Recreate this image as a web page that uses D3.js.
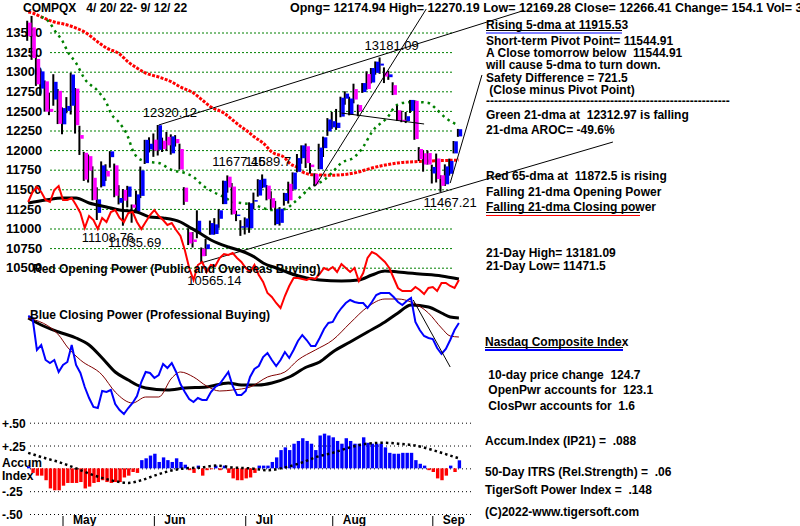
<!DOCTYPE html>
<html><head><meta charset="utf-8">
<script src="https://cdn.jsdelivr.net/npm/d3@7"></script>
<style>
body{margin:0;background:#fff;overflow:hidden;}
svg{display:block;}
svg text{font-family:"Liberation Sans",Arial,sans-serif;font-weight:bold;font-size:12px;white-space:pre;}
</style></head><body>
<script>
// NASDAQ composite, 4/20/22 - 9/12/22, one entry per trading day
const opens = [13626,13565,13163,12784,12877,12526,12645,12756,
  12329,12500,12566,12784,12192,11966,11923,11647,11199,11539,11735,11910,11806,11328,11494,11404,11305,11216,11416,11834,12008,
  12133,12003,12120,12169,11959,12142,12014,11521,10953,10860,10936,10744,10737,10921,10930,11124,11311,11661,11535,11163,11015,
  11011,11003,11350,11420,11523,11547,11387,11056,11072,11351,11570,11499,11724,11897,12049,11815,11694,11756,12025,12239,
  12290,12282,12427,12656,12450,12778,12575,12740,12970,12862,12985,13078,12991,12930,12828,12508,12387,12370,12500,12628,12014,11960,11962,
  11702,11893,11679,11564,11698,11958,12174.94];
const highs = [13650,13711,13221,13011,12888,12733,12968,12779,
  12545,12676,12986,12792,12310,11978,11944,11793,11525,11856,11819,11986,11828,11553,11503,11544,11306,11483,11790,12131,12163,
  12212,12320.12,12159,12231,12201,12191,12082,11527,11003,10955,11232,10758,10869,11101,11132,11247,11611,11677.45,11580,11226,11106,
  11142,11334,11458,11629,11689.7,11555,11475,11352,11273,11455,11597,11716,11950,12061,12084,11835,11704,12081,12172,12408,
  12486,12525,12681,12750,12681,12847,12581,12855,13005,13047,13131,13181.09,13055,13012,12865,12567,12501,12486,12640,12636,12038,11995,11994,
  11814,11956,11680,11818,11891,12116,12270.19];
const lows = [13394,13151,12819,12693,12490,12446,12566,12332,
  12202,12470,12454,12211,11938,11607,11586,11359,11108.76,11524,11607,11776,11399,11307,11035.69,11270,11074,11197,11388,11823,11970,
  11914,11931,11976,11988,11942,12045,11753,11301,10789,10757,10876,10565.14,10650,10920,10922,11008,11311,11457,11177,11094,10906,
  10924,10945,11245,11406,11514,11359,11238,11041,11037,11292,11318,11479,11716,11826,11772,11700,11539,11756,11912,12182,
  12271,12258,12419,12579,12444,12597,12432,12730,12771,12851,12962,12973,12855,12896,12702,12371,12356,12345,12474,12131,11861,11725,11815,
  11574,11587,11467.21,11542,11674,11958,12169.28];
const closes = [13453,13174,12839,13004,12490,12488,12871,12335,
  12536,12563,12964,12318,12145,11623,11738,11365,11371,11805,11663,11984,11418,11389,11355,11535,11265,11435,11741,12131,12081,
  11994,12317,12013,12061,12175,12087,11754,11340,10809,10828,11099,10646,10798,11069,11053,11232,11608,11524,11182,11178,11029,
  11128,11322,11362,11621,11635,11373,11265,11248,11252,11452,11360,11713,11898,12060,11834,11783,11563,12032,12163,12391,
  12369,12349,12668,12721,12658,12645,12493,12855,12779,13047,13128,13103,12938,12966,12705,12381,12381,12432,12640,12141,11884,11816,11816,
  11785,11631,11544,11792,11862,12112,12266.41];

// moving averages: [day index, value]
const ma65 = [[0,13760],[1,13749],[3,13698],[6,13634],[9,13596],[11,13557],[13,13506],[16,13379],[18,13302],[21,13226],[23,13124],
  [25,13047],[27,12983],[30,12932],[33,12869],[35,12805],[38,12728],[40,12639],[42,12550],[45,12473],[47,12384],[49,12295],[50,12257],
  [52,12167],[54,12090],[56,11976],[59,11899],[60,11836],[62,11772],[63,11721],[66,11683],[70,11680],[75,11708],[79,11772],[85,11836],
  [90,11855],[95,11866],[99,11872.5]];
const ma21 = [[3,13700],[5,13621],[6,13532],[8,13379],[9,13264],[11,13111],[13,12907],[16,12754],[18,12601],[19,12473],[21,12346],
  [23,12160],[24,12000],[26,11874],[28,11848],[30,11836],[33,11746],[36,11708],[38,11657],[40,11555],[43,11453],[45,11402],[47,11338],
  [49,11325],[52,11300],[54,11261],[56,11236],[59,11249],[61,11325],[63,11427],[65,11529],[68,11618],[70,11721],[72,11836],[75,11912],
  [77,12040],[79,12231],[83,12448],[84,12537],[86,12601],[89,12614],[92,12601],[94,12512],[96,12409],[99,12312.97]];

// Opening power (red) and Closing power (blue), relative units
const openPower = [108,118,123,118,110,108,120,124,110,110,112,105,97,82,94,90,81,92,88,98,100,92,88,97,98,88,81,88,95,100,
  94,90,85,87,80,74,60,42,30,45,48,38,45,44,52,56,55,57,52,48,42,38,45,35,28,17,13,7,2,14,
  24,32,32,31,30,32,31,36,42,40,43,38,46,42,38,42,29,37,52,58,56,52,48,42,32,22,19,19,19,23,
  20,16,22,23,19,27,27,24,22,30];
const openPowerMA = [[0,107],[4,110],[8,112],[11,112],[14,107],[18,103],[21,100],[25,98],[28,93],[31,92],[35,88],[37,83],[39,78],
  [42,70],[46,63],[49,59],[52,53],[54,47],[57,42],[60,37],[64,32],[67,30],[72,29],[76,30],[79,35],[82,39],[85,38],[90,36],[95,34],[99,31]];
const closePower = [104,102,70,75,60,57,60,48,55,58,75,55,47,33,22,13,12,29,28,30,16,10,6,12,17,24,38,48,47,42,
  45,56,52,57,48,36,28,21,18,22,20,20,28,33,36,42,48,34,25,25,29,43,51,54,63,67,60,54,60,68,
  62,70,79,85,80,74,74,82,91,97,98,106,112,117,120,118,117,117,112,118,125,127,127,127,123,118,115,119,122,98,
  90,84,82,81,72,66,71,80,90,97];
const closePowerMA = [[0,102],[3,95],[7,88],[11,82],[14,75],[17,62],[20,48],[23,40],[25,35],[27,32],[32,30],[36,32],[41,33],[46,37],
  [49,35],[53,35],[56,37],[60,43],[64,53],[67,58],[70,68],[74,78],[78,88],[82,98],[85,107],[88,115],[92,113],[95,107],[97,103],[99,102]];
const closePowerMA2 = [[0,102],[7,85],[9,73],[12,60],[17,45],[20,28],[24,17],[27,23],[30,23],[33,42],[35,48],[38,43],[41,34],[44,29],
  [47,30],[51,33],[55,43],[59,48],[62,60],[66,70],[70,80],[74,97],[78,113],[82,121],[85,121],[88,118],[92,107],[95,92],[97,84],[99,83]];

// Accumulation index (IP21) per day and its moving average
const accum = [0.02,-0.05,-0.08,-0.08,-0.13,-0.22,-0.24,-0.24,-0.19,-0.16,-0.16,-0.16,-0.15,-0.22,-0.20,-0.16,-0.15,-0.13,-0.15,-0.16,
  -0.15,-0.15,-0.10,-0.08,-0.04,-0.05,0.09,0.11,0.14,0.16,0.07,0.12,0.09,0.07,0.11,0.07,0.04,-0.02,-0.05,0.03,
  -0.08,-0.02,-0.01,0.03,-0.02,0.03,-0.05,-0.11,-0.13,-0.13,-0.11,-0.10,-0.05,0.03,0.03,0.03,0.07,0.12,0.20,0.23,
  0.20,0.27,0.30,0.33,0.30,0.27,0.20,0.36,0.38,0.36,0.34,0.30,0.27,0.33,0.30,0.27,0.27,0.34,0.28,0.27,
  0.27,0.27,0.23,0.17,0.16,0.16,0.17,0.17,0.17,0.09,0.05,0.03,-0.02,-0.04,-0.11,-0.13,-0.08,0.03,-0.04,0.088];
const accumMA = [[0,0.17],[4,0.11],[7,0.07],[11,0],[15,-0.075],[19,-0.13],[23,-0.16],[26,-0.13],[29,-0.08],[32,-0.035],[36,0],
  [40,0.01],[43,0.03],[47,0.01],[51,0],[55,-0.02],[59,0.01],[63,0.065],[66,0.12],[70,0.17],[74,0.23],[78,0.27],[82,0.28],[85,0.27],
  [89,0.25],[93,0.2],[97,0.14],[99,0.11]];

// trend lines drawn on the chart: [day index, value] endpoints
const priceLines = [
  [[30,12320.12],[114,13782]],
  [[66,11539],[91.5,13800]],
  [[72,12473],[91,12333]],
  [[40,10565.14],[134.4,12103]],
  [[97,11580],[104.3,12958]]
];
const powerLine = [[88.5,120],[97,53]];

const priceTicks = [13500,13250,13000,12750,12500,12250,12000,11750,11500,11250,11000,10750,10500];
const accumTicks = [0.5,0.25,0,-0.25,-0.5];
const accumTickLabels = ["+.50","+.25","","-.25","-.50"];
const months = ["May","Jun","Jul","Aug","Sep"];
const monthStart = [8,29,50,70,93];

const header1 = "COMPQX   4/ 20/ 22- 9/ 12/ 22";
const header2 = "Opng= 12174.94 High= 12270.19 Low= 12169.28 Close= 12266.41 Change= 154.1 Vol= 3";
const notesTop = ["Rising 5-dma at 11915.53","Short-term Pivot Point= 11544.91","A Close tomorrow below  11544.91",
  "will cause 5-dma to turn down.","Safety Difference = 721.5"," (Close minus Pivot Point)",
  "-------------------------------------------------------------",
  "Green 21-dma at  12312.97 is falling","21-dma AROC= -49.6%","Red 65-dma at  11872.5 is rising",
  "Falling 21-dma Opening Power","Falling 21-dma Closing power","21-Day High= 13181.09","21-Day Low= 11471.5"];
const notesBottom = ["Nasdaq Composite Index"," 10-day price change  124.7"," OpenPwr accounts for  123.1",
  " ClosPwr accounts for  1.6","Accum.Index (IP21) =  .088","50-Day ITRS (Rel.Strength) =  .06",
  "TigerSoft Power Index =  .148","(C)2022-www.tigersoft.com"];
const priceLabels = [[30,"12320.12"],[81,"13181.09"],[16,"11108.76"],[22,"11035.69"],[40,"10565.14"],[95,"11467.21"],[46,"11677.45"],[54,"11689.7"]];

function main() {
  const s = d3.select('body').append('svg').attr('width', 800).attr('height', 526);
  s.append('rect').attr('width', 800).attr('height', 526).attr('fill', '#fff');

  const x = d3.scaleLinear().domain([0, 99]).range([28.2, 458.9]);
  const y = d3.scaleLinear().domain([10500, 13500]).range([267.7, 32.5]);
  const yOP = d3.scaleLinear().domain([0, 100]).range([310, 210]);
  const yCP = d3.scaleLinear().domain([0, 100]).range([420, 320]);
  const yAI = d3.scaleLinear().domain([-0.5, 0.5]).range([514, 422.7]);

  // price grid + labels
  s.append('g').attr('transform', 'translate(50,0)')
    .call(d3.axisRight(y).tickValues(priceTicks).tickSize(403).tickFormat(''))
    .call(g => g.select('.domain').remove())
    .selectAll('line').attr('stroke', '#008000').attr('stroke-dasharray', '2,2');
  s.append('g').attr('transform', 'translate(6,0)')
    .call(d3.axisRight(y).tickValues(priceTicks).tickSize(0).tickPadding(0).tickFormat(d3.format('d')))
    .call(g => g.select('.domain').remove())
    .selectAll('text').style('font-size', '13px').attr('fill', '#000');

  // accumulation grid
  s.append('g').attr('transform', 'translate(30,0)')
    .call(d3.axisRight(yAI).tickValues(accumTicks).tickSize(442).tickFormat(''))
    .call(g => g.select('.domain').remove())
    .selectAll('line').attr('stroke', '#000').attr('stroke-dasharray', '1,3');
  s.append('g').selectAll('text').data(accumTicks).enter().append('text')
    .attr('x', 2).attr('y', d => yAI(d) + 5).text((d, i) => accumTickLabels[i]);
  s.append('text').attr('x', 2).attr('y', 467).text('Accum');
  s.append('text').attr('x', 2).attr('y', 480).text('Index');

  // month ticks
  const mg = s.append('g');
  mg.selectAll('line').data(monthStart).enter().append('line')
    .attr('x1', d => x(d)).attr('x2', d => x(d)).attr('y1', 516).attr('y2', 526)
    .attr('stroke', '#000');
  mg.selectAll('text').data(monthStart).enter().append('text')
    .attr('x', d => x(d) + 10).attr('y', 524).text((d, i) => months[i]);

  // moving averages on price
  const lineP = d3.line().x(d => x(d[0])).y(d => y(d[1])).curve(d3.curveMonotoneX);
  s.append('path').attr('d', lineP(ma65)).attr('fill', 'none').attr('stroke', '#ff0000')
    .attr('stroke-width', 3).attr('stroke-dasharray', '3,1.4');
  s.append('path').attr('d', lineP(ma21)).attr('fill', 'none').attr('stroke', '#008000')
    .attr('stroke-width', 2.5).attr('stroke-dasharray', '2.5,4');

  // candles
  const days = d3.range(closes.length);
  s.append('g').selectAll('rect').data(days).enter().append('rect')
    .attr('x', i => x(i) - 2).attr('width', 2)
    .attr('y', i => y(highs[i])).attr('height', i => y(lows[i]) - y(highs[i]))
    .attr('fill', '#000');
  s.append('g').selectAll('rect').data(days).enter().append('rect')
    .attr('x', i => x(i) - 0.2).attr('width', 3.5)
    .attr('y', i => y(Math.max(opens[i], closes[i])))
    .attr('height', i => Math.max(1.5, Math.abs(y(opens[i]) - y(closes[i]))))
    .attr('fill', i => closes[i] > opens[i] ? '#0000ff' : '#ff00ff');

  // trend lines
  s.append('g').selectAll('line').data(priceLines).enter().append('line')
    .attr('x1', d => x(d[0][0])).attr('y1', d => y(d[0][1]))
    .attr('x2', d => x(d[1][0])).attr('y2', d => y(d[1][1]))
    .attr('stroke', '#000').attr('stroke-width', 1);

  // price labels
  const labelOffset = {30: -16, 81: -16, 16: -16, 22: -16, 40: -15, 95: -18, 46: -16, 54: -18};
  const labelDy = {30: -8.5, 81: -8, 16: 22, 22: 21, 40: 22, 95: 15, 46: -9, 54: -8};
  s.append('g').selectAll('text').data(priceLabels).enter().append('text')
    .attr('x', d => x(d[0]) + labelOffset[d[0]])
    .attr('y', d => (d[0] === 30 || d[0] === 81 || d[0] === 46 || d[0] === 54 ? y(highs[d[0]]) : y(lows[d[0]])) + labelDy[d[0]])
    .style('font-weight', 'normal').style('font-size', '13px')
    .text(d => d[1]);

  // opening power
  const lineOP = d3.line().x((d, i) => x(i)).y(d => yOP(d));
  const lineOPm = d3.line().x(d => x(d[0])).y(d => yOP(d[1])).curve(d3.curveMonotoneX);
  s.append('path').attr('d', lineOPm(openPowerMA)).attr('fill', 'none').attr('stroke', '#000').attr('stroke-width', 3);
  s.append('path').attr('d', lineOP(openPower)).attr('fill', 'none').attr('stroke', '#ff0000').attr('stroke-width', 2);

  // closing power
  const lineCP = d3.line().x((d, i) => x(i)).y(d => yCP(d));
  const lineCPm = d3.line().x(d => x(d[0])).y(d => yCP(d[1])).curve(d3.curveMonotoneX);
  s.append('path').attr('d', lineCPm(closePowerMA)).attr('fill', 'none').attr('stroke', '#000').attr('stroke-width', 3);
  s.append('path').attr('d', lineCPm(closePowerMA2)).attr('fill', 'none').attr('stroke', '#800000').attr('stroke-width', 1);
  s.append('path').attr('d', lineCP(closePower)).attr('fill', 'none').attr('stroke', '#0000ff').attr('stroke-width', 2);
  s.append('line').attr('x1', x(powerLine[0][0])).attr('y1', yCP(powerLine[0][1]))
    .attr('x2', x(powerLine[1][0])).attr('y2', yCP(powerLine[1][1])).attr('stroke', '#000');

  s.append('text').attr('x', 33).attr('y', 273).text('Red Opening Power (Public and Overseas Buying)');
  s.append('text').attr('x', 30).attr('y', 319).text('Blue Closing Power (Professional Buying)');

  // accumulation bars
  s.append('g').selectAll('rect').data(days).enter().append('rect')
    .attr('x', i => x(i) - 1.2).attr('width', 3.4)
    .attr('y', i => yAI(Math.max(0, accum[i])))
    .attr('height', i => Math.abs(yAI(accum[i]) - yAI(0)))
    .attr('fill', i => accum[i] >= 0 ? '#0000ff' : '#ff0000');
  const lineAI = d3.line().x(d => x(d[0])).y(d => yAI(d[1])).curve(d3.curveMonotoneX);
  s.append('path').attr('d', lineAI(accumMA)).attr('fill', 'none').attr('stroke', '#000')
    .attr('stroke-width', 2.5).attr('stroke-dasharray', '2.5,3');

  // header
  s.append('text').attr('x', 23).attr('y', 12).text(header1);
  s.append('text').attr('x', 290).attr('y', 12).style('font-size', '12.5px').text(header2);

  // notes
  const topY = [29, 45, 57, 69, 82, 94, 105, 119, 134, 180, 196, 211, 257, 270];
  s.append('g').selectAll('text').data(notesTop).enter().append('text')
    .attr('x', 486).attr('y', (d, i) => topY[i]).text(d => d);
  const botY = [346, 379, 394, 410, 445, 476, 494, 516];
  s.append('g').selectAll('text').data(notesBottom).enter().append('text')
    .attr('x', 485).attr('y', (d, i) => botY[i]).text(d => d);

  // underlines
  const ul = [[486, 622, 30.5, '#000'], [486, 622, 33, '#0000ff'], [486, 640, 212.5, '#000'], [486, 640, 215.5, '#ff0000'],
    [485, 623, 347.5, '#000'], [485, 623, 350, '#0000ff']];
  s.append('g').selectAll('line').data(ul).enter().append('line')
    .attr('x1', d => d[0]).attr('x2', d => d[1]).attr('y1', d => d[2]).attr('y2', d => d[2])
    .attr('stroke', d => d[3]).attr('stroke-width', (d, i) => i === 5 ? 2 : 1);
}

main();
</script></body></html>
